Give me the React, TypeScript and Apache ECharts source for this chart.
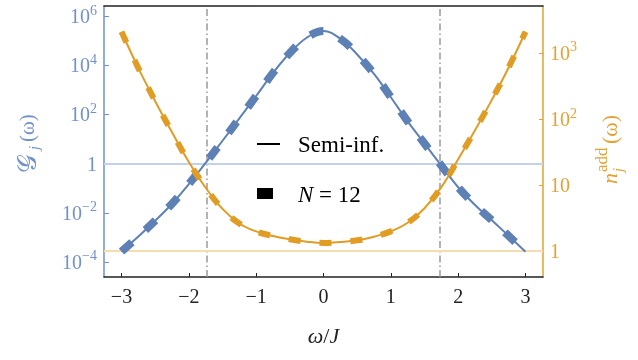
import React, { useEffect, useRef } from 'react';
import * as echarts from 'echarts';

// ω/J sample positions
const omega = [-3, -2.75, -2.5, -2.25, -2, -1.75, -1.5, -1.25, -1, -0.75, -0.5, -0.25, 0, 0.25, 0.5, 0.75, 1, 1.25, 1.5, 1.75, 2, 2.25, 2.5, 2.75, 3];
// log10 of G_j(ω), semi-infinite chain
const gExp = [-3.57, -2.96, -2.32, -1.63, -0.83, 0.03, 0.93, 1.84, 2.75, 3.69, 4.5, 5.12, 5.39, 5.08, 4.44, 3.65, 2.7, 1.72, 0.82, -0.08, -0.96, -1.68, -2.3, -2.94, -3.58];
// log10 of n_j^add(ω), semi-infinite chain
const nExp = [3.32, 2.77, 2.27, 1.8, 1.35, 0.96, 0.64, 0.42, 0.3, 0.23, 0.18, 0.145, 0.126, 0.14, 0.165, 0.22, 0.3, 0.43, 0.65, 0.97, 1.39, 1.83, 2.29, 2.78, 3.32];
// N = 12 (coincides with the semi-infinite curves)
const gExpN12 = gExp;
const nExpN12 = nExp;

const xTicks = [-3, -2, -1, 0, 1, 2, 3];
const gTicks = [1e-4, 1e-2, 1, 1e2, 1e4, 1e6];
const nTicks = [1, 10, 100, 1000];
const cutoffs = [-1.732, 1.732];
const gRef = [1];
const nRef = [1];

const BLUE = '#5E81B5';
const BLUE_AX = '#7191c8';
const ORANGE = '#E19C24';
const ORANGE_AX = '#e3a232';
const FONT = "'Liberation Serif', 'DejaVu Serif', serif";

function powLabel(v: number) {
  const e = Math.round(Math.log10(v));
  if (e === 0) return '{b|1}';
  if (e === 1) return '{b|10}';
  const s = e < 0 ? '\u2212' + -e : String(e);
  return '{b|10}{sup|' + s + '}';
}

const richPow = {
  b: { fontSize: 20, lineHeight: 26, fontFamily: FONT },
  sup: { fontSize: 14, lineHeight: 14, verticalAlign: 'top', fontFamily: FONT },
};

export default function App() {
  const ref = useRef<HTMLDivElement>(null);
  useEffect(() => {
    const chart = echarts.init(ref.current as HTMLDivElement, null, { renderer: 'svg' });
    const gData = omega.map((w, i) => [w, Math.pow(10, gExp[i])]);
    const nData = omega.map((w, i) => [w, Math.pow(10, nExp[i])]);
    const gDataN = omega.map((w, i) => [w, Math.pow(10, gExpN12[i])]);
    const nDataN = omega.map((w, i) => [w, Math.pow(10, nExpN12[i])]);

    const option: any = {
      animation: false,
      grid: { left: 104, right: 95, top: 6, bottom: 83 },
      xAxis: [
        {
          type: 'value',
          min: -3.26,
          max: 3.26,
          position: 'bottom',
          axisLine: { onZero: false, lineStyle: { color: '#222', width: 1.5 } },
          axisTick: { inside: true, length: 4, customValues: xTicks, lineStyle: { color: '#222', width: 1 } },
          axisLabel: {
            customValues: xTicks,
            formatter: (v: number) => (v < 0 ? '\u2212' + -v : String(v)),
            fontFamily: FONT,
            fontSize: 20,
            color: '#222',
            margin: 9,
          },
          splitLine: { show: false },
          name: '{i|ω}/{i|J}',
          nameLocation: 'middle',
          nameGap: 47,
          nameTextStyle: {
            fontFamily: FONT,
            fontSize: 22,
            color: '#222',
            rich: { i: { fontStyle: 'italic', fontSize: 22, fontFamily: FONT, color: '#222' } },
          },
        },
        {
          type: 'value',
          min: -3.26,
          max: 3.26,
          position: 'top',
          axisLine: { onZero: false, lineStyle: { color: '#222', width: 1.5 } },
          axisTick: { show: false },
          axisLabel: { show: false },
          splitLine: { show: false },
        },
      ],
      yAxis: [
        {
          type: 'log',
          logBase: 10,
          min: Math.pow(10, -4.61),
          max: Math.pow(10, 6.41),
          position: 'left',
          axisLine: { show: true, onZero: false, lineStyle: { color: BLUE_AX, width: 1.5 } },
          axisTick: { inside: true, length: 5, customValues: gTicks, lineStyle: { color: BLUE_AX, width: 1 } },
          axisLabel: {
            customValues: gTicks,
            formatter: powLabel,
            color: BLUE_AX,
            margin: 7,
            rich: richPow,
          },
          splitLine: { show: false },
          minorTick: { show: false },
        },
        {
          type: 'log',
          logBase: 10,
          min: Math.pow(10, -0.39),
          max: Math.pow(10, 3.71),
          position: 'right',
          axisLine: { show: true, onZero: false, lineStyle: { color: ORANGE_AX, width: 1.5 } },
          axisTick: { inside: true, length: 4, customValues: nTicks, lineStyle: { color: ORANGE_AX, width: 1 } },
          axisLabel: {
            customValues: nTicks,
            formatter: powLabel,
            color: ORANGE_AX,
            margin: 7,
            rich: richPow,
          },
          splitLine: { show: false },
        },
      ],
      series: [
        {
          name: 'Semi-inf.',
          type: 'line',
          xAxisIndex: 0,
          yAxisIndex: 0,
          data: gData,
          smooth: 0.4,
          showSymbol: false,
          z: 3,
          lineStyle: { color: BLUE, width: 2 },
          markLine: {
            silent: true,
            symbol: 'none',
            z: 1,
            label: { show: false },
            data: [
              ...cutoffs.map((c) => ({ xAxis: c, lineStyle: { color: '#9a9a9a', width: 1.5, type: [7, 3, 1.5, 3] } })),
              ...gRef.map((r) => ({ yAxis: r, lineStyle: { color: '#c3d2ea', width: 2, type: 'solid' } })),
            ],
          },
        },
        {
          name: 'N = 12',
          type: 'line',
          xAxisIndex: 0,
          yAxisIndex: 0,
          data: gDataN,
          smooth: 0.4,
          showSymbol: false,
          z: 4,
          lineStyle: { color: BLUE, width: 8, type: [14, 18] },
        },
        {
          name: 'Semi-inf.',
          type: 'line',
          xAxisIndex: 0,
          yAxisIndex: 1,
          data: nData,
          smooth: 0.4,
          showSymbol: false,
          z: 5,
          lineStyle: { color: ORANGE, width: 2 },
          markLine: {
            silent: true,
            symbol: 'none',
            z: 1,
            label: { show: false },
            data: nRef.map((r) => ({ yAxis: r, lineStyle: { color: '#f6dcae', width: 2, type: 'solid' } })),
          },
        },
        {
          name: 'N = 12',
          type: 'line',
          xAxisIndex: 0,
          yAxisIndex: 1,
          data: nDataN,
          smooth: 0.4,
          showSymbol: false,
          z: 6,
          lineStyle: { color: ORANGE, width: 6, type: [12, 19] },
        },
      ],
      graphic: [
        { type: 'line', shape: { x1: 257, y1: 144, x2: 280, y2: 144 }, style: { stroke: '#000', lineWidth: 2 }, z: 10 },
        {
          type: 'text', x: 298, y: 144, z: 10,
          style: { text: 'Semi-inf.', fontSize: 23, fontFamily: FONT, fill: '#000', align: 'left', verticalAlign: 'middle' },
        },
        { type: 'rect', shape: { x: 257, y: 188, width: 16, height: 11 }, style: { fill: '#000' }, z: 10 },
        {
          type: 'text', x: 298, y: 194, z: 10,
          style: {
            text: '{i|N} = 12', fontSize: 23, fontFamily: FONT, fill: '#000', align: 'left', verticalAlign: 'middle',
            rich: { i: { fontStyle: 'italic', fontSize: 23, fontFamily: FONT, fill: '#000' } },
          },
        },
        {
          type: 'group', x: 27, y: 143, rotation: Math.PI / 2,
          children: [
            { type: 'text', x: -30, y: 0, style: { text: '𝒢', fontSize: 26, fontFamily: "'DejaVu Serif', 'DejaVu Sans', 'Noto Sans', serif", fill: BLUE_AX, align: 'left', verticalAlign: 'middle' } },
            { type: 'text', x: -7, y: 7, style: { text: 'j', fontSize: 15, fontStyle: 'italic', fontFamily: FONT, fill: BLUE_AX, align: 'left', verticalAlign: 'middle' } },
            { type: 'text', x: 1, y: 0, style: { text: '(ω)', fontSize: 21, fontFamily: FONT, fill: BLUE_AX, align: 'left', verticalAlign: 'middle' } },
          ],
        },
        {
          type: 'group', x: 609, y: 147, rotation: Math.PI / 2,
          children: [
            { type: 'text', x: -37, y: 0, style: { text: 'n', fontSize: 22, fontStyle: 'italic', fontFamily: FONT, fill: ORANGE_AX, align: 'left', verticalAlign: 'middle' } },
            { type: 'text', x: -25, y: -8, style: { text: 'add', fontSize: 17, fontFamily: FONT, fill: ORANGE_AX, align: 'left', verticalAlign: 'middle' } },
            { type: 'text', x: -25, y: 9, style: { text: 'j', fontSize: 15, fontStyle: 'italic', fontFamily: FONT, fill: ORANGE_AX, align: 'left', verticalAlign: 'middle' } },
            { type: 'text', x: 3, y: 0, style: { text: '(ω)', fontSize: 22, fontFamily: FONT, fill: ORANGE_AX, align: 'left', verticalAlign: 'middle' } },
          ],
        },
      ],
    };
    chart.setOption(option);
    return () => chart.dispose();
  }, []);
  return <div ref={ref} style={{ position: 'fixed', left: 0, top: 0, width: 638, height: 360 }} />;
}
